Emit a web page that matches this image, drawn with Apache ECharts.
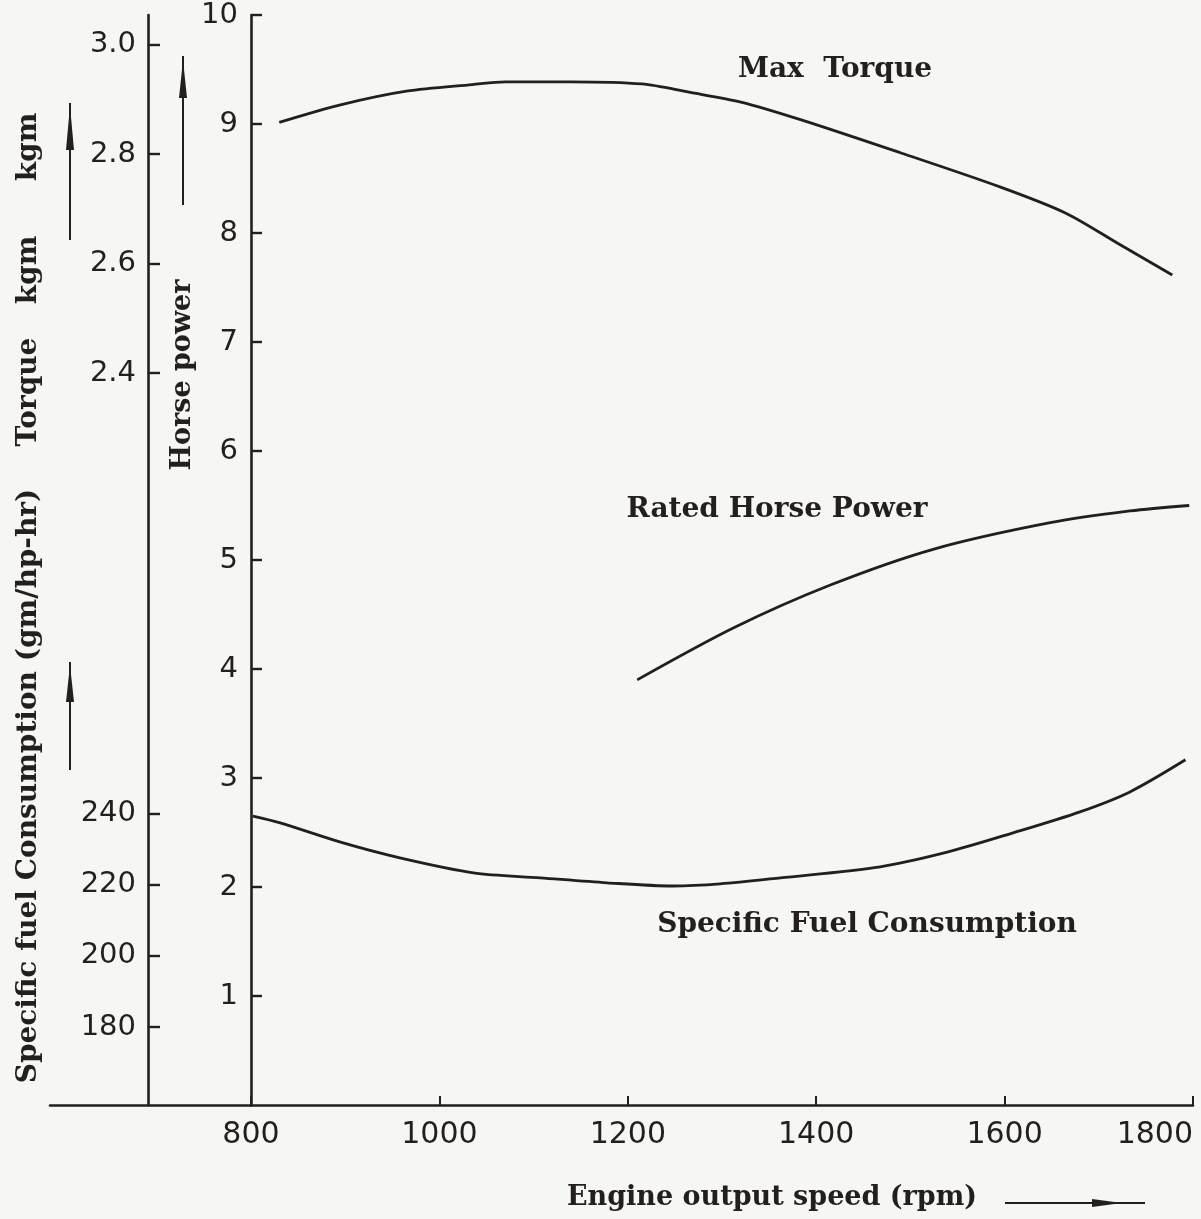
<!DOCTYPE html>
<html>
<head>
<meta charset="utf-8">
<script src="https://cdn.jsdelivr.net/npm/echarts@6/dist/echarts.min.js"></script>
<style>
  html, body { margin: 0; padding: 0; background: #f6f6f4; }
  #chart { width: 1201px; height: 1219px; }
</style>
</head>
<body>
<div id="chart"></div>
<script>
// ---- data ----
const rpmTicks = [800, 1000, 1200, 1400, 1600, 1800];
const hpTicks = [1, 2, 3, 4, 5, 6, 7, 8, 9, 10];
const torqueTicks = [2.4, 2.6, 2.8, 3.0];
const sfcTicks = [180, 200, 220, 240];

const rpmTorque = [830, 895, 965, 1035, 1070, 1140, 1215, 1265, 1320, 1385, 1490, 1595, 1665, 1720, 1778];
const maxTorque = [2.858, 2.890, 2.915, 2.927, 2.932, 2.932, 2.928, 2.913, 2.895, 2.862, 2.802, 2.740, 2.692, 2.637, 2.579];

const rpmPower = [1210, 1313, 1415, 1525, 1647, 1733, 1796];
const ratedHP = [3.90, 4.38, 4.77, 5.10, 5.34, 5.45, 5.50];

const rpmSfc = [802, 831, 895, 958, 1036, 1107, 1178, 1248, 1298, 1362, 1468, 1539, 1609, 1680, 1733, 1792];
const sfc = [239.2, 237.3, 231.9, 227.5, 223.3, 221.9, 220.5, 219.6, 220.2, 221.9, 225.0, 229.1, 234.5, 240.4, 246.0, 255.0];

const seriesNames = ['Max  Torque', 'Rated Horse Power', 'Specific Fuel Consumption'];

// ---- styling ----
const INK = '#231f1c';
const yNumFont = { fontFamily: 'DejaVu Sans', fontSize: 29, color: INK };
const xNumFont = { fontFamily: 'DejaVu Sans', fontSize: 30, color: INK };
const titleFont = 'bold 28px "DejaVu Serif"';

function pairs(xs, ys) { return xs.map((x, i) => [x, ys[i]]); }

const chart = echarts.init(document.getElementById('chart'), null, { renderer: 'canvas' });

const axisLineStyle = { color: INK, width: 2.6 };

function vtext(txt, x, y, font) {
  return { type: 'text', x: x, y: y, rotation: Math.PI / 2,
    style: { text: txt, font: font || titleFont, fill: INK, textAlign: 'center', textVerticalAlign: 'middle' } };
}
function htext(txt, x, y, font) {
  return { type: 'text', x: x, y: y,
    style: { text: txt, font: font || titleFont, fill: INK, textAlign: 'center', textVerticalAlign: 'middle' } };
}
function upArrow(x, yTop, yBot, headTop, headBot) {
  return [
    { type: 'line', shape: { x1: x, y1: yTop, x2: x, y2: yBot }, style: { stroke: INK, lineWidth: 2 } },
    { type: 'polygon', shape: { points: [[x, headTop], [x - 4, headBot], [x + 4, headBot]] }, style: { fill: INK } }
  ];
}

const option = {
  backgroundColor: '#f6f6f4',
  animation: false,
  grid: [
    { left: 251, right: 8, top: 15, bottom: 114, outerBoundsMode: 'none', containLabel: false },
    { left: 50, right: 950, top: 15, bottom: 114, outerBoundsMode: 'none', containLabel: false }
  ],
  xAxis: [
    {
      type: 'value', gridIndex: 0, min: 800, max: 1800, interval: 200,
      axisLine: { show: true, onZero: false, lineStyle: axisLineStyle },
      axisTick: { show: true, inside: true, length: 9, lineStyle: { color: INK, width: 2 }, customValues: rpmTicks },
      axisLabel: Object.assign({ margin: 15, customValues: rpmTicks, alignMaxLabel: 'right', formatter: v => String(v) }, xNumFont),
      splitLine: { show: false }
    },
    {
      type: 'value', gridIndex: 1, min: 0, max: 1,
      axisLine: { show: true, onZero: false, lineStyle: axisLineStyle },
      axisTick: { show: false }, axisLabel: { show: false }, splitLine: { show: false }
    }
  ],
  yAxis: [
    {
      type: 'value', gridIndex: 0, position: 'left', offset: 0, min: 0, max: 10, interval: 1,
      axisLine: { show: true, onZero: false, lineStyle: axisLineStyle },
      axisTick: { show: true, inside: true, length: 11, lineStyle: { color: INK, width: 2.4 }, customValues: hpTicks },
      axisLabel: Object.assign({ margin: 13, customValues: hpTicks, formatter: v => String(v) }, yNumFont),
      splitLine: { show: false }
    },
    {
      type: 'value', gridIndex: 0, position: 'left', offset: 103, min: 1.063, max: 3.054,
      axisLine: { show: true, onZero: false, lineStyle: axisLineStyle },
      axisTick: { show: true, inside: true, length: 12, lineStyle: { color: INK, width: 2.4 }, customValues: torqueTicks },
      axisLabel: Object.assign({ margin: 12, customValues: torqueTicks, formatter: v => v.toFixed(1) }, yNumFont),
      splitLine: { show: false }
    },
    {
      type: 'value', gridIndex: 0, position: 'left', offset: 103, min: 158.18, max: 463.9,
      axisLine: { show: false },
      axisTick: { show: true, inside: true, length: 12, lineStyle: { color: INK, width: 2.4 }, customValues: sfcTicks },
      axisLabel: Object.assign({ margin: 12, customValues: sfcTicks, formatter: v => String(v) }, yNumFont),
      splitLine: { show: false }
    },
    { type: 'value', gridIndex: 1, show: false, min: 0, max: 1 }
  ],
  series: [
    {
      name: seriesNames[0], type: 'line', xAxisIndex: 0, yAxisIndex: 1,
      data: pairs(rpmTorque, maxTorque), smooth: 0.3, showSymbol: false,
      lineStyle: { color: INK, width: 2.8 }
    },
    {
      name: seriesNames[1], type: 'line', xAxisIndex: 0, yAxisIndex: 0,
      data: pairs(rpmPower, ratedHP), smooth: 0.3, showSymbol: false,
      lineStyle: { color: INK, width: 2.8 }
    },
    {
      name: seriesNames[2], type: 'line', xAxisIndex: 0, yAxisIndex: 2,
      data: pairs(rpmSfc, sfc), smooth: 0.3, showSymbol: false,
      lineStyle: { color: INK, width: 2.8 }
    }
  ],
  graphic: [
    htext(seriesNames[0], 835, 70),
    htext(seriesNames[1], 777, 510),
    htext(seriesNames[2], 867, 925),
    htext('Engine output speed (rpm)', 772, 1198, 'bold 27px "DejaVu Serif"'),
    { type: 'line', shape: { x1: 1005, y1: 1203, x2: 1145, y2: 1203 }, style: { stroke: INK, lineWidth: 2 } },
    { type: 'polygon', shape: { points: [[1122, 1203], [1092, 1199], [1092, 1207]] }, style: { fill: INK } },
    vtext('Specific fuel Consumption (gm/hp-hr)', 29, 786),
    vtext('Torque', 29, 392),
    vtext('kgm', 29, 270),
    vtext('kgm', 29, 147),
    vtext('Horse power', 183, 375, 'bold 27px "DejaVu Serif"')
  ].concat(upArrow(70, 103, 240, 106, 150))
   .concat(upArrow(70, 662, 770, 665, 702))
   .concat(upArrow(183, 56, 205, 60, 98))
};

chart.setOption(option);
</script>
</body>
</html>
